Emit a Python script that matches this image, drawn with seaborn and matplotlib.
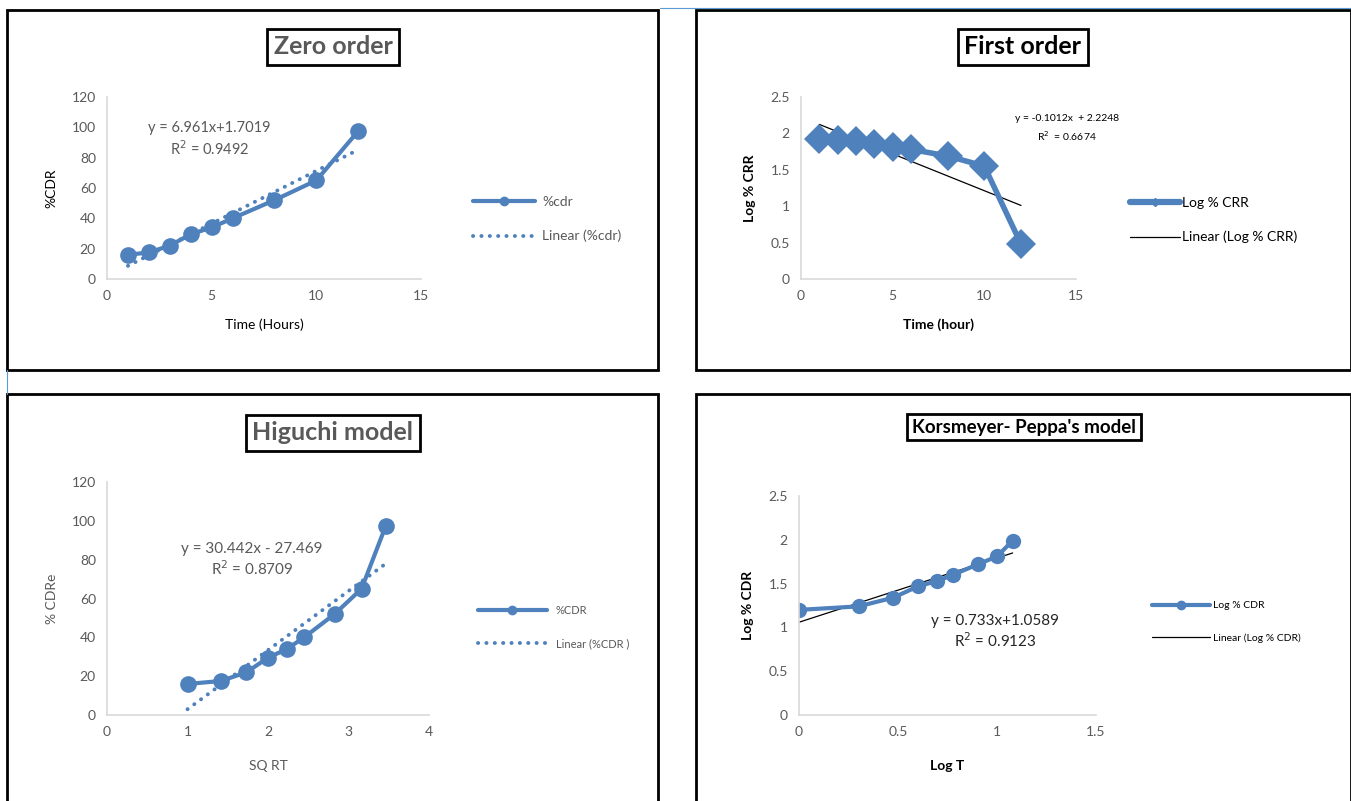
import numpy as np
import pandas as pd
import matplotlib
matplotlib.use("Agg")
import matplotlib.pyplot as plt
import seaborn as sns
from matplotlib.lines import Line2D
from matplotlib.patches import Rectangle

# ---------------- data ----------------
time_h = [1, 2, 3, 4, 5, 6, 8, 10, 12]
pct_cdr = [16.0, 17.5, 22.0, 29.5, 34.0, 40.0, 52.0, 65.0, 97.5]
log_crr = [1.92, 1.91, 1.89, 1.85, 1.82, 1.78, 1.69, 1.55, 0.48]
sq_rt = [1.0, 1.414, 1.732, 2.0, 2.236, 2.449, 2.828, 3.162, 3.464]
log_t = [0.0, 0.301, 0.477, 0.602, 0.699, 0.778, 0.903, 1.0, 1.079]
log_cdr = [1.20, 1.24, 1.34, 1.47, 1.53, 1.60, 1.72, 1.81, 1.99]

zero_fit = (6.961, 1.7019)
first_fit = (-0.1012, 2.2248)
higuchi_fit = (30.442, -27.469)
kp_fit = (0.733, 1.0589)

BLUE = "#4F81BD"
GREY = "#595959"
AXC = "#D9D9D9"

sns.set_theme(style="white")
plt.rcParams["font.family"] = ["Lato", "DejaVu Sans"]

W, H = 1351, 801
fig = plt.figure(figsize=(W / 100, H / 100), dpi=100)
fig.patch.set_facecolor("white")


def fx(px):
    return px / W


def fy(py):
    return 1 - py / H


def make_ax(l, r, t, b):
    return fig.add_axes([fx(l), fy(b), fx(r) - fx(l), (b - t) / H])


def style_ax(ax, xlim, ylim, xticks, yticks, ticklabel_size=10):
    ax.set_xlim(*xlim)
    ax.set_ylim(*ylim)
    ax.set_xticks(xticks)
    ax.set_yticks(yticks)
    ax.set_xticklabels([f"{v:g}" for v in xticks])
    ax.set_yticklabels([f"{v:g}" for v in yticks])
    for s in ["top", "right"]:
        ax.spines[s].set_visible(False)
    for s in ["left", "bottom"]:
        ax.spines[s].set_color(AXC)
        ax.spines[s].set_linewidth(1.2)
    ax.tick_params(axis="both", length=0, labelsize=ticklabel_size,
                   labelcolor=GREY, pad=8)
    ax.set_facecolor("none")
    ax.grid(False)


def trend(ax, xs, fit, **kw):
    x0, x1 = xs[0], xs[-1]
    df = pd.DataFrame({"x": [x0, x1], "y": [fit[0] * x0 + fit[1], fit[0] * x1 + fit[1]]})
    sns.lineplot(data=df, x="x", y="y", ax=ax, legend=False, **kw)


# panel borders
for (l, t, r, b) in [(7, 10, 658, 370), (696, 10, 1351, 370),
                     (7, 394, 658, 805), (696, 394, 1351, 805)]:
    fig.patches.append(Rectangle((fx(l), fy(b)), fx(r) - fx(l), (b - t) / H,
                                 transform=fig.transFigure, fill=False,
                                 edgecolor="black", linewidth=2.0, zorder=0))
# thin blue artefact lines
fig.add_artist(Line2D([fx(660), 1], [fy(8), fy(8)], color="#5B9BD5", lw=0.8,
                      transform=fig.transFigure))
fig.add_artist(Line2D([fx(7), fx(7)], [fy(370), fy(394)], color="#5B9BD5", lw=0.8,
                      transform=fig.transFigure))


def boxed_title(x, y, text, size, color):
    fig.text(fx(x), fy(y), text, ha="center", va="center", fontsize=size,
             fontweight="bold", color=color,
             bbox=dict(boxstyle="square,pad=0.25", facecolor="white",
                       edgecolor="black", linewidth=2.0))


dotted = (0, (0.05, 2.1))
DOT_KW = dict(color=BLUE, linewidth=2.8, linestyle=dotted,
              dash_capstyle="round", solid_capstyle="round")

# ---------------- Zero order ----------------
ax1 = make_ax(107, 421, 97, 279)
df1 = pd.DataFrame({"t": time_h, "y": pct_cdr})
trend(ax1, time_h, zero_fit, **DOT_KW)
sns.lineplot(data=df1, x="t", y="y", ax=ax1, color=BLUE, linewidth=3,
             marker="o", markersize=12, markeredgewidth=0, legend=False)
style_ax(ax1, (0, 15), (0, 120), [0, 5, 10, 15], [0, 20, 40, 60, 80, 100, 120])
ax1.set_xlabel("Time (Hours)", fontsize=10, color="black", labelpad=12)
ax1.set_ylabel("%CDR", fontsize=10, color="black", labelpad=10)
ax1.text(4.9, 92, "y = 6.961x+1.7019\nR$^2$ = 0.9492", ha="center", va="center",
         fontsize=10.5, color=GREY, linespacing=1.25)
h1 = [Line2D([], [], color=BLUE, lw=3, marker="o", markersize=6),
      Line2D([], [], **DOT_KW)]
ax1.legend(h1, ["%cdr", "Linear (%cdr)"], loc="center left",
           bbox_to_anchor=(fx(460), fy(219)), bbox_transform=fig.transFigure,
           frameon=False, fontsize=10, labelcolor=GREY, handlelength=4.5,
           labelspacing=1.6, handletextpad=0.5)
boxed_title(333, 47, "Zero order", 18, GREY)

# ---------------- First order ----------------
ax2 = make_ax(801, 1076, 97, 279)
df2 = pd.DataFrame({"t": time_h, "y": log_crr})
trend(ax2, time_h, first_fit, color="black", linewidth=0.9)
sns.lineplot(data=df2, x="t", y="y", ax=ax2, color=BLUE, linewidth=4,
             marker="D", markersize=15, markeredgewidth=0, legend=False)
style_ax(ax2, (0, 15), (0, 2.5), [0, 5, 10, 15], [0, 0.5, 1, 1.5, 2, 2.5])
ax2.set_xlabel("Time (hour)", fontsize=10, color="black", fontweight="bold", labelpad=12)
ax2.set_ylabel("Log % CRR", fontsize=10, color="black", fontweight="bold", labelpad=10)
ax2.text(14.5, 2.07, "y = -0.1012x  + 2.2248\nR$^2$  = 0.6674", ha="center", va="center",
         fontsize=7.5, color="black", linespacing=1.5, clip_on=False)
h2 = [Line2D([], [], color=BLUE, lw=4.5, marker="D", markersize=4),
      Line2D([], [], color="black", lw=0.9)]
ax2.legend(h2, ["Log % CRR", "Linear (Log % CRR)"], loc="center left",
           bbox_to_anchor=(fx(1117), fy(220)), bbox_transform=fig.transFigure,
           frameon=False, fontsize=10, labelcolor="black", handlelength=3.6,
           labelspacing=1.6, handletextpad=0.2)
boxed_title(1023, 47, "First order", 18, "black")

# ---------------- Higuchi ----------------
ax3 = make_ax(107, 429, 482, 715)
df3 = pd.DataFrame({"x": sq_rt, "y": pct_cdr})
trend(ax3, sq_rt, higuchi_fit, **DOT_KW)
sns.lineplot(data=df3, x="x", y="y", ax=ax3, color=BLUE, linewidth=3,
             marker="o", markersize=12, markeredgewidth=0, legend=False)
style_ax(ax3, (0, 4), (0, 120), [0, 1, 2, 3, 4], [0, 20, 40, 60, 80, 100, 120])
ax3.set_xlabel("SQ RT", fontsize=10, color=GREY, labelpad=16)
ax3.set_ylabel("% CDRe", fontsize=10, color=GREY, labelpad=10)
ax3.text(1.8, 80, "y = 30.442x - 27.469\nR$^2$ = 0.8709", ha="center", va="center",
         fontsize=11, color=GREY, linespacing=1.2)
h3 = [Line2D([], [], color=BLUE, lw=3, marker="o", markersize=6),
      Line2D([], [], **DOT_KW)]
ax3.legend(h3, ["%CDR", "Linear (%CDR )"], loc="center left",
           bbox_to_anchor=(fx(468), fy(627)), bbox_transform=fig.transFigure,
           frameon=False, fontsize=8, labelcolor=GREY, handlelength=6.2,
           labelspacing=2.0, handletextpad=0.8)
boxed_title(333, 433, "Higuchi model", 18, GREY)

# ---------------- Korsmeyer-Peppas ----------------
ax4 = make_ax(799, 1096, 496, 715)
df4 = pd.DataFrame({"x": log_t, "y": log_cdr})
trend(ax4, log_t, kp_fit, color="black", linewidth=0.9)
sns.lineplot(data=df4, x="x", y="y", ax=ax4, color=BLUE, linewidth=3,
             marker="o", markersize=11, markeredgewidth=0, legend=False)
style_ax(ax4, (0, 1.5), (0, 2.5), [0, 0.5, 1, 1.5], [0, 0.5, 1, 1.5, 2, 2.5])
ax4.set_xlabel("Log T", fontsize=10, color="black", fontweight="bold", labelpad=16)
ax4.set_ylabel("Log % CDR", fontsize=10, color="black", fontweight="bold", labelpad=10)
ax4.text(0.99, 0.95, "y = 0.733x+1.0589\nR$^2$ = 0.9123", ha="center", va="center",
         fontsize=11, color="#262626", linespacing=1.2)
h4 = [Line2D([], [], color=BLUE, lw=3, marker="o", markersize=6),
      Line2D([], [], color="black", lw=0.9)]
ax4.legend(h4, ["Log % CDR", "Linear (Log % CDR)"], loc="center left",
           bbox_to_anchor=(fx(1143), fy(622)), bbox_transform=fig.transFigure,
           frameon=False, fontsize=7.5, labelcolor="black", handlelength=5.5,
           labelspacing=2.2, handletextpad=0.3)
boxed_title(1024, 427, "Korsmeyer- Peppa's model", 13.5, "black")

fig.savefig("out.png", dpi=100, facecolor="white")
